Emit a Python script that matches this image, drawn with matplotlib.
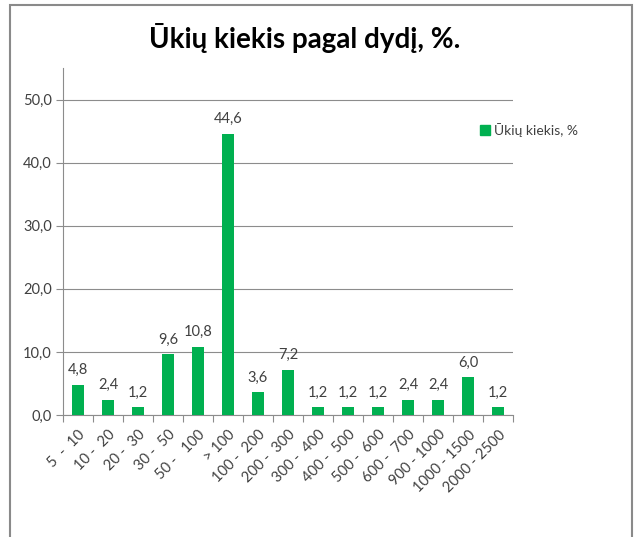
import matplotlib
matplotlib.use("Agg")
import matplotlib.pyplot as plt
from matplotlib.patches import Rectangle
from matplotlib.lines import Line2D
import numpy as np

categories = ["5  -  10", "10 -  20", "20 -  30", "30 -  50", "50 -   100", "> 100",
              "100 -  200", "200 -  300", "300 -  400", "400 -  500", "500 -  600",
              "600 -  700", "900 - 1000", "1000 - 1500", "2000 - 2500"]
values = [4.8, 2.4, 1.2, 9.6, 10.8, 44.6, 3.6, 7.2, 1.2, 1.2, 1.2, 2.4, 2.4, 6.0, 1.2]
series_name = "Ūkių kiekis, %"
title = "Ūkių kiekis pagal dydį, %."

W, H = 639, 537
fig = plt.figure(figsize=(W/100, H/100), dpi=100)
plt.rcParams['font.family'] = ['Lato', 'DejaVu Sans']

ax = fig.add_axes([63/W, 1-415/H, (513-63)/W, (415-68)/H])
green = "#00B050"
txt = "#404040"
grid = "#8c8c8c"

x = np.arange(len(categories))
ax.bar(x, values, width=0.4, color=green, zorder=3)
for xi, v in zip(x, values):
    ax.text(xi, v + 1.2, f"{v:.1f}".replace(".", ","), ha="center", va="bottom",
            fontsize=10.5, color=txt)

ax.set_xlim(-0.5, len(categories)-0.5)
ax.set_ylim(0, 55)
yt = np.arange(0, 51, 10)
ax.set_yticks(yt)
ax.set_yticklabels([f"{t:.1f}".replace(".", ",") for t in yt], fontsize=10.5, color=txt)
ax.yaxis.grid(True, color=grid, linewidth=0.8, zorder=0)
ax.set_axisbelow(True)

ax.set_xticks(np.arange(-0.5, len(categories), 1), minor=False)
ax.set_xticklabels([])
ax.set_xticks(x, minor=True)
ax.set_xticklabels(categories, minor=True, rotation=45, ha="right", rotation_mode="anchor",
                   fontsize=10.5, color=txt)
ax.tick_params(axis="x", which="minor", length=0, pad=9)
ax.tick_params(axis="x", which="major", length=5, color=grid, direction="out")
ax.tick_params(axis="y", length=5, color=grid, direction="out", pad=3)

for s in ["top", "right"]:
    ax.spines[s].set_visible(False)
ax.spines["left"].set_color(grid)
ax.spines["bottom"].set_color(grid)
ax.spines["left"].set_linewidth(0.8)
ax.spines["bottom"].set_linewidth(0.8)

fig.text(305/W, 1-38/H, title, ha="center", va="center", fontsize=20,
         fontweight="bold", color="black")

handle = Line2D([], [], marker="s", linestyle="none", color=green, markersize=7)
fig.legend([handle], [series_name], loc="center left", bbox_to_anchor=(466/W, 1-130/H),
           frameon=False, fontsize=10, handletextpad=0.1, labelcolor=txt, handlelength=1)

fig.add_artist(Rectangle((10/W, -0.05), (632-10)/W, 1.05-4.5/H, transform=fig.transFigure,
                         fill=False, edgecolor="#8a8a8a", linewidth=1.5))

fig.savefig("out.png", dpi=100)
